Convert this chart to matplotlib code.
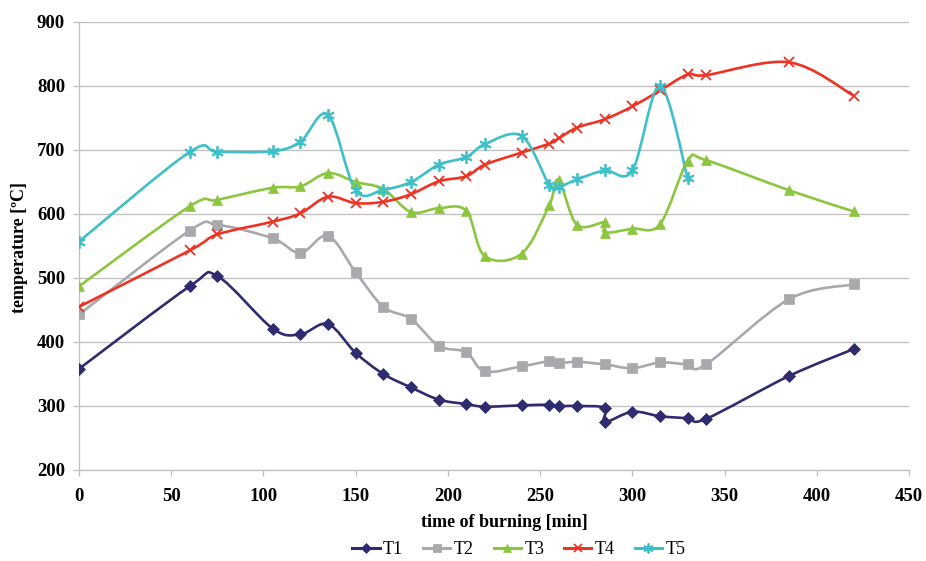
import numpy as np
import matplotlib
matplotlib.use("Agg")
import matplotlib.pyplot as plt
from matplotlib.path import Path
from matplotlib.patches import PathPatch
from matplotlib.lines import Line2D

# time of burning [min] for each series
t_t1 = [0, 60, 75, 105, 120, 135, 150, 165, 180, 195, 210, 220, 240, 255, 260, 270, 285, 285, 300, 315, 330, 340, 385, 420]
T1 = [358, 487, 503, 421, 412, 428, 383, 350, 329, 310, 303, 299, 301, 302, 300, 300, 297, 275, 291, 284, 281, 280, 347, 389]

t_t2 = [0, 60, 75, 105, 120, 135, 150, 165, 180, 195, 210, 220, 240, 255, 260, 270, 285, 300, 315, 330, 340, 385, 420]
T2 = [443, 574, 583, 562, 539, 566, 509, 455, 436, 394, 384, 354, 362, 370, 367, 369, 365, 359, 368, 365, 365, 467, 490]

t_t3 = [0, 60, 75, 105, 120, 135, 150, 165, 180, 195, 210, 220, 240, 255, 260, 270, 285, 285, 300, 315, 330, 340, 385, 420]
T3 = [487, 612, 622, 641, 643, 664, 650, 639, 603, 609, 605, 534, 538, 614, 653, 583, 587, 571, 577, 584, 683, 684, 637, 604]

t_t4 = [0, 60, 75, 105, 120, 135, 150, 165, 180, 195, 210, 220, 240, 255, 260, 270, 285, 300, 315, 330, 340, 385, 420]
T4 = [455, 543, 568, 588, 601, 627, 617, 619, 631, 651, 659, 677, 696, 710, 718, 735, 748, 768, 793, 818, 817, 837, 785]

t_t5 = [0, 60, 75, 105, 120, 135, 150, 165, 180, 195, 210, 220, 240, 255, 260, 270, 285, 300, 315, 330]
T5 = [557, 697, 697, 698, 713, 755, 637, 638, 650, 677, 689, 709, 722, 645, 642, 654, 668, 668, 800, 656]

names = ["T1", "T2", "T3", "T4", "T5"]
colors = ["#2E2B6F", "#A7A9AC", "#8CC63F", "#EE3224", "#3EC0C9"]
markers = ["D", "s", "^", "x", (6, 2, 0)]
msizes = [6, 6.5, 6.5, 7, 9]


def smooth_path(x, y):
    # Excel-style smoothed line: cubic Bezier through every point
    p = np.column_stack([x, y]).astype(float)
    n = len(p)
    verts = [p[0]]
    codes = [Path.MOVETO]
    for i in range(n - 1):
        p0 = p[i - 1] if i > 0 else p[i]
        p1 = p[i]
        p2 = p[i + 1]
        p3 = p[i + 2] if i + 2 < n else p[i + 1]
        c1 = p1 + (p2 - p0) / 6.0
        c2 = p2 - (p3 - p1) / 6.0
        verts += [c1, c2, p2]
        codes += [Path.CURVE4] * 3
    return Path(verts, codes)


plt.rcParams['font.family'] = ['Liberation Serif', 'DejaVu Serif']

fig = plt.figure(figsize=(9.26, 5.61), dpi=100)
ax = fig.add_axes([79 / 926, 91 / 561, 830 / 926, 448 / 561])

series = [(t_t1, T1), (t_t2, T2), (t_t3, T3), (t_t4, T4), (t_t5, T5)]
handles = []
for (tx, ty), name, c, m, ms in zip(series, names, colors, markers, msizes):
    ax.add_patch(PathPatch(smooth_path(tx, ty), facecolor='none', edgecolor=c, lw=1.9, zorder=3))
    mew = 1.3 if m in ("x", (6, 2, 0)) else 0.5
    ax.plot(tx, ty, linestyle='none', marker=m, color=c, markersize=ms,
            markeredgewidth=mew, zorder=4)
    handles.append(Line2D([0], [0], color=c, lw=2.2, marker=m, markersize=ms * 0.8,
                          markeredgewidth=mew))

ax.set_xlim(0, 450)
ax.set_ylim(200, 900)
ax.set_xticks(np.arange(0, 451, 50))
ax.set_yticks(np.arange(200, 901, 100))
ax.grid(axis='y', color='#BEBEBE', lw=0.9)
ax.set_axisbelow(True)
for s in ['top', 'right']:
    ax.spines[s].set_visible(False)
for s in ['left', 'bottom']:
    ax.spines[s].set_color('#BEBEBE')
    ax.spines[s].set_linewidth(0.9)
ax.tick_params(axis='both', color='#BEBEBE', length=4, width=0.9, labelsize=13.5)
ax.tick_params(axis='x', pad=9)
ax.tick_params(axis='y', pad=6)
for lab in ax.get_xticklabels() + ax.get_yticklabels():
    lab.set_fontweight('bold')

ax.set_xlabel("time of burning [min]", fontsize=13, fontweight='bold')
ax.xaxis.set_label_coords(0.513, -0.098)
ax.set_ylabel("temperature [ºC]", fontsize=13, fontweight='bold')
ax.yaxis.set_label_coords(-0.062, 0.497)

fig.legend(handles, names, loc='center', ncol=5, frameon=False,
           bbox_to_anchor=(519 / 926, 11 / 561), fontsize=13, handlelength=1.5,
           columnspacing=1.1, handletextpad=0.2)

fig.savefig("out.png", dpi=100)
